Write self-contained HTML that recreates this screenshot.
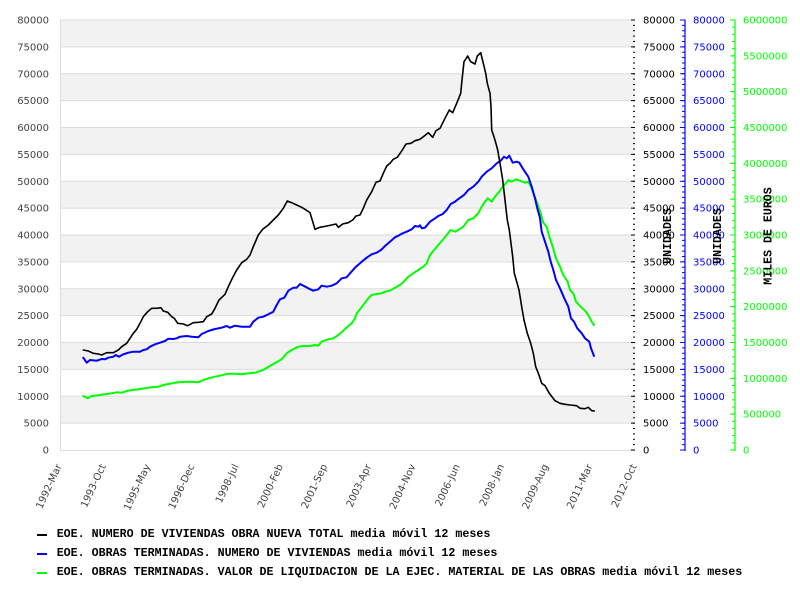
<!DOCTYPE html>
<html>
<head>
<meta charset="utf-8">
<style>
html,body{margin:0;padding:0;background:#fff;}
svg{display:block;}
.yl{font-family:"DejaVu Sans","Liberation Sans",sans-serif;font-size:10px;fill:#444;}
.rt{font-family:"DejaVu Sans","Liberation Sans",sans-serif;font-size:10px;}
.ttl{font-family:"Liberation Mono","DejaVu Sans Mono",monospace;font-size:11.6px;font-weight:bold;fill:#000;}
.lg{font-family:"Liberation Mono","DejaVu Sans Mono",monospace;font-size:11.67px;font-weight:bold;fill:#000;}
</style>
</head>
<body>
<svg width="800" height="600" viewBox="0 0 800 600" xmlns="http://www.w3.org/2000/svg">
<rect x="0" y="0" width="800" height="600" fill="#fff"/>
<g fill="#f2f2f2">
<rect x="60" y="20" width="575" height="26.875"/>
<rect x="60" y="73.75" width="575" height="26.875"/>
<rect x="60" y="127.5" width="575" height="26.875"/>
<rect x="60" y="181.25" width="575" height="26.875"/>
<rect x="60" y="235" width="575" height="26.875"/>
<rect x="60" y="288.75" width="575" height="26.875"/>
<rect x="60" y="342.5" width="575" height="26.875"/>
<rect x="60" y="396.25" width="575" height="26.875"/>
</g>
<g stroke="#dcdcdc" stroke-width="1">
<line x1="60" y1="20" x2="635" y2="20"/>
<line x1="60" y1="46.875" x2="635" y2="46.875"/>
<line x1="60" y1="73.75" x2="635" y2="73.75"/>
<line x1="60" y1="100.625" x2="635" y2="100.625"/>
<line x1="60" y1="127.5" x2="635" y2="127.5"/>
<line x1="60" y1="154.375" x2="635" y2="154.375"/>
<line x1="60" y1="181.25" x2="635" y2="181.25"/>
<line x1="60" y1="208.125" x2="635" y2="208.125"/>
<line x1="60" y1="235" x2="635" y2="235"/>
<line x1="60" y1="261.875" x2="635" y2="261.875"/>
<line x1="60" y1="288.75" x2="635" y2="288.75"/>
<line x1="60" y1="315.625" x2="635" y2="315.625"/>
<line x1="60" y1="342.5" x2="635" y2="342.5"/>
<line x1="60" y1="369.375" x2="635" y2="369.375"/>
<line x1="60" y1="396.25" x2="635" y2="396.25"/>
<line x1="60" y1="423.125" x2="635" y2="423.125"/>
<line x1="60" y1="450.5" x2="635" y2="450.5"/>
<line x1="60.5" y1="20" x2="60.5" y2="451"/>
</g>
<g class="yl" text-anchor="end">
<text x="49" y="23.5">80000</text>
<text x="49" y="50.4">75000</text>
<text x="49" y="77.3">70000</text>
<text x="49" y="104.1">65000</text>
<text x="49" y="131">60000</text>
<text x="49" y="157.9">55000</text>
<text x="49" y="184.8">50000</text>
<text x="49" y="211.6">45000</text>
<text x="49" y="238.5">40000</text>
<text x="49" y="265.4">35000</text>
<text x="49" y="292.3">30000</text>
<text x="49" y="319.1">25000</text>
<text x="49" y="346">20000</text>
<text x="49" y="372.9">15000</text>
<text x="49" y="399.8">10000</text>
<text x="49" y="426.6">5000</text>
<text x="49" y="453.5">0</text>
</g>
<g class="yl" text-anchor="end">
<text transform="translate(62,466) rotate(-65)">1992-Mar</text>
<text transform="translate(106.2,466) rotate(-65)">1993-Oct</text>
<text transform="translate(150.5,466) rotate(-65)">1995-May</text>
<text transform="translate(194.7,466) rotate(-65)">1996-Dec</text>
<text transform="translate(238.9,466) rotate(-65)">1998-Jul</text>
<text transform="translate(283.2,466) rotate(-65)">2000-Feb</text>
<text transform="translate(327.4,466) rotate(-65)">2001-Sep</text>
<text transform="translate(371.6,466) rotate(-65)">2003-Apr</text>
<text transform="translate(415.8,466) rotate(-65)">2004-Nov</text>
<text transform="translate(460.1,466) rotate(-65)">2006-Jun</text>
<text transform="translate(504.3,466) rotate(-65)">2008-Jan</text>
<text transform="translate(548.5,466) rotate(-65)">2009-Aug</text>
<text transform="translate(592.8,466) rotate(-65)">2011-Mar</text>
<text transform="translate(637,466) rotate(-65)">2012-Oct</text>
</g>
<line x1="634" y1="450.5" x2="634" y2="19" stroke="#000" stroke-width="2" stroke-dasharray="1 4.375"/>
<line x1="633" y1="450.5" x2="633" y2="19" stroke="#000" stroke-width="4" stroke-dasharray="1 25.875"/>
<g class="rt" fill="#000">
<text x="643" y="23.5">80000</text>
<text x="643" y="50.4">75000</text>
<text x="643" y="77.3">70000</text>
<text x="643" y="104.1">65000</text>
<text x="643" y="131">60000</text>
<text x="643" y="157.9">55000</text>
<text x="643" y="184.8">50000</text>
<text x="643" y="211.6">45000</text>
<text x="643" y="238.5">40000</text>
<text x="643" y="265.4">35000</text>
<text x="643" y="292.3">30000</text>
<text x="643" y="319.1">25000</text>
<text x="643" y="346">20000</text>
<text x="643" y="372.9">15000</text>
<text x="643" y="399.8">10000</text>
<text x="643" y="426.6">5000</text>
<text x="643" y="453.5">0</text>
</g>
<line x1="685" y1="19.5" x2="685" y2="451" stroke="#0000ff" stroke-width="1.2"/>
<line x1="683.5" y1="450.5" x2="683.5" y2="19" stroke="#0000ff" stroke-width="3" stroke-dasharray="1 4.375"/>
<line x1="682.5" y1="450.5" x2="682.5" y2="19" stroke="#0000ff" stroke-width="5" stroke-dasharray="1 25.875"/>
<g class="rt" fill="#0000ff">
<text x="693" y="23.5">80000</text>
<text x="693" y="50.4">75000</text>
<text x="693" y="77.3">70000</text>
<text x="693" y="104.1">65000</text>
<text x="693" y="131">60000</text>
<text x="693" y="157.9">55000</text>
<text x="693" y="184.8">50000</text>
<text x="693" y="211.6">45000</text>
<text x="693" y="238.5">40000</text>
<text x="693" y="265.4">35000</text>
<text x="693" y="292.3">30000</text>
<text x="693" y="319.1">25000</text>
<text x="693" y="346">20000</text>
<text x="693" y="372.9">15000</text>
<text x="693" y="399.8">10000</text>
<text x="693" y="426.6">5000</text>
<text x="693" y="453.5">0</text>
</g>
<line x1="735" y1="19.5" x2="735" y2="451" stroke="#00ff00" stroke-width="1.2"/>
<line x1="733.5" y1="450.5" x2="733.5" y2="19" stroke="#00ff00" stroke-width="3" stroke-dasharray="1 6.1667"/>
<line x1="732.5" y1="450.5" x2="732.5" y2="19" stroke="#00ff00" stroke-width="5" stroke-dasharray="1 34.8333"/>
<g class="rt" fill="#00ff00">
<text x="743" y="23.5">6000000</text>
<text x="743" y="59.3">5500000</text>
<text x="743" y="95.2">5000000</text>
<text x="743" y="131">4500000</text>
<text x="743" y="166.8">4000000</text>
<text x="743" y="202.7">3500000</text>
<text x="743" y="238.5">3000000</text>
<text x="743" y="274.3">2500000</text>
<text x="743" y="310.2">2000000</text>
<text x="743" y="346">1500000</text>
<text x="743" y="381.8">1000000</text>
<text x="743" y="417.7">500000</text>
<text x="743" y="453.5">0</text>
</g>
<text class="ttl" text-anchor="middle" transform="translate(671,236) rotate(-90)">UNIDADES</text>
<text class="ttl" text-anchor="middle" transform="translate(721,236) rotate(-90)">UNIDADES</text>
<text class="ttl" text-anchor="middle" transform="translate(771.5,236) rotate(-90)">MILES DE EUROS</text>
<g fill="none" stroke-linejoin="round" stroke-linecap="round">
<polyline stroke="#00ff00" stroke-width="2" points="83.3,396 87.7,398.3 91.7,396 98.3,395.3 105,394.3 111.7,393.3 116.7,392.3 121.7,392.7 126.7,391 131.7,390 138.3,389.3 145,388.3 151.7,387.3 158.3,386.7 163.3,385 168.3,384 175,382.7 181.7,382 190,381.7 198.3,382.3 203.3,380 208.3,378.3 215,376.7 221.7,375.3 228.3,373.7 235,373.7 241.7,374.3 248.3,373.3 255,372.7 262,370.5 270,366 276,362.5 281.7,359.3 286.7,353.3 291.7,350 298.3,346.7 303.3,346 310,346 315,345 318.3,345.7 321.7,341.7 328.3,339.3 333.3,338.3 338.3,335 343.3,330.7 348.3,326 351.7,323.3 355,318.3 356.7,313.3 360,309.3 365,302.7 368.3,298.3 371.7,295 376.7,294 381.7,293.3 385,291.7 390,290.7 395,287.7 400,285 403.3,282.3 408.3,276.7 413.3,273.3 418.3,270 423.3,266.7 426.7,263.3 430,255 435,249 440,243 442.7,240 446.7,235 450.7,230 455,231.7 459.3,229.3 463.3,226.7 468.3,220 473.3,218.3 478.3,213.3 481.7,206.7 485,201.7 487.7,198.3 491.7,201.7 495,196.7 499.3,191.7 502.7,186.7 506,183.3 508.3,180 511.7,181.7 516,179.3 520,180.7 525,182.7 528.3,181.7 531,186.7 534,195 537.3,203.3 540.7,213.3 543.3,222.7 546.7,226.7 549.3,236.7 552.7,246.7 556,258.3 560,266.7 563.3,275 567.7,281.7 570,290 573.3,293.3 576,301.7 580,306 585,310.7 588.3,315 591.7,321.7 594,325"/>
<polyline stroke="#0000ff" stroke-width="2" points="83.3,357.7 86.7,362.7 90,360 96.7,360.7 101.7,359 105,359.3 108.3,357.7 113.3,356.7 115.7,355 119,356.7 123.3,354.3 128.3,352.7 133.3,351.7 140,351.7 143.3,350 146.7,349.3 150,346.7 155,344.3 160,342.7 165,341 168.3,338.7 173.3,339 176.7,338.3 180,336.7 186.7,336 191.7,336.7 198.3,337.3 201.7,334 208.3,331 215,329 221.7,327.7 226.7,326 230,327.7 235,325.7 241.7,326.7 250,326.7 253.3,321.7 258.3,317.7 263.3,316.7 268.3,314.3 273.3,311.7 276.7,305 280,299.3 284.3,297.7 288.3,290.7 293.3,287.7 296.7,287.7 300,284 303.3,285.7 308.3,288.3 313.3,290.7 318.3,289.3 321.7,285.7 326.7,286.7 331.7,285.7 336.7,283.3 341.7,278.3 346.7,277.3 350,273.3 356,266.7 361.7,261.7 366.7,257.7 371.7,254.3 376.7,252.7 381,250 385,246 390,241.7 395,237.3 398.3,235.7 402.7,233.3 406.7,231.7 411.7,229.3 415,226 418.3,226.7 420,225.3 421.7,228.3 425,227.7 430,221.7 435,218.3 438.3,216 442.7,214 446.7,210 450.7,204 455,201.7 459.3,198.3 464,195 468.3,190 473.3,186.7 478.3,181.7 481.7,176.7 486.7,171.7 491.7,168.3 496.7,163.3 500.7,160.7 504,156.7 506.7,158.3 509.3,155.7 512.7,162.7 516.7,161.7 519.3,162.7 522.7,168.3 526,173.3 528.3,176.7 531.7,186.7 535,198.3 537.3,208.3 540,218 541.7,231.7 545,241.7 548.3,251.7 550.7,261.7 553.3,270 556,280 560,288.3 564.3,298.3 568.3,306.7 571,318.3 574,321.7 577.3,328.3 581.7,333.3 585,338.3 589.3,341.7 591,348.3 594,356"/>
<polyline stroke="#000000" stroke-width="1.6" points="83.3,350 88.3,351 93.3,353.3 98.3,354 101.7,355 106.7,352.7 113.3,352.7 118.3,350 121.7,346.7 126.7,343.3 130,338.3 133.3,333.3 136.7,329.3 140,323.3 143.3,316.7 147.7,311.7 151.7,308.3 156.7,308.3 161,307.7 163.3,311 167.7,312.3 171.7,316.7 174.3,318.3 177.7,323.3 183.3,324 187.7,325.7 193.3,322.7 198.3,322.3 203.3,321.7 206.7,316.7 211.7,314 215,308.3 219,300 225,294.3 228.3,286.7 232.3,278.3 236.7,270 241.7,262.7 246.7,259.3 250,255 253.3,246.7 258.3,235 262.7,229.3 268.3,225 273.3,220 278.3,215 283.3,208.3 287.3,201 291.7,202.7 296.7,205 301.7,207.3 305,209.3 310,212.7 311.7,218.3 315,229.3 320,227.3 326.7,226 331.7,225 336,224 338.3,227.3 342.7,224 348.3,222.7 352.7,220 356,216 360,215 363.3,208.3 366.7,200 371.7,191.7 376,182.3 380,181 383.3,173.3 386.7,166 390,163.3 393.3,159.3 397.3,157.3 401.7,151 406,144 411,143.3 415,140.7 420,139.3 423.3,136.7 428.3,132.7 432.7,137.3 436,130.7 440,128.3 445,118.3 449.3,110 452.7,112.7 456.7,103.3 460.7,93.3 462,80 464,61.7 467.7,56 470.7,61.7 475,64 477.3,56 480.7,52.7 483.3,63.3 485.7,73.3 487.3,83.3 490,93.3 491,106.7 491.7,130 495,140 497.7,150 500,163.3 502.7,180 505,200 507.3,220 509.3,230 511,243.3 512.7,256.7 514.3,273.3 516.7,281.7 519,290 521.7,306.7 524,320 527.3,333.3 530.7,343.3 533.3,353.3 535.7,366.7 539,375 541.7,383.3 545,385.7 549.3,393.3 555,400.7 560,403.3 565,404.3 570,405 576.7,405.7 580,408.3 585,408.7 588.3,407.3 591.7,410.7 594.3,411"/>
</g>
<line x1="37" y1="535" x2="47" y2="535" stroke="#000" stroke-width="2"/>
<line x1="37" y1="554" x2="47" y2="554" stroke="#0000ff" stroke-width="2"/>
<line x1="37" y1="573" x2="47" y2="573" stroke="#00ff00" stroke-width="2"/>
<text class="lg" x="56.7" y="537">EOE. NUMERO DE VIVIENDAS OBRA NUEVA TOTAL media móvil 12 meses</text>
<text class="lg" x="56.7" y="556">EOE. OBRAS TERMINADAS. NUMERO DE VIVIENDAS media móvil 12 meses</text>
<text class="lg" x="56.7" y="575">EOE. OBRAS TERMINADAS. VALOR DE LIQUIDACION DE LA EJEC. MATERIAL DE LAS OBRAS media móvil 12 meses</text>
</svg>
</body>
</html>
